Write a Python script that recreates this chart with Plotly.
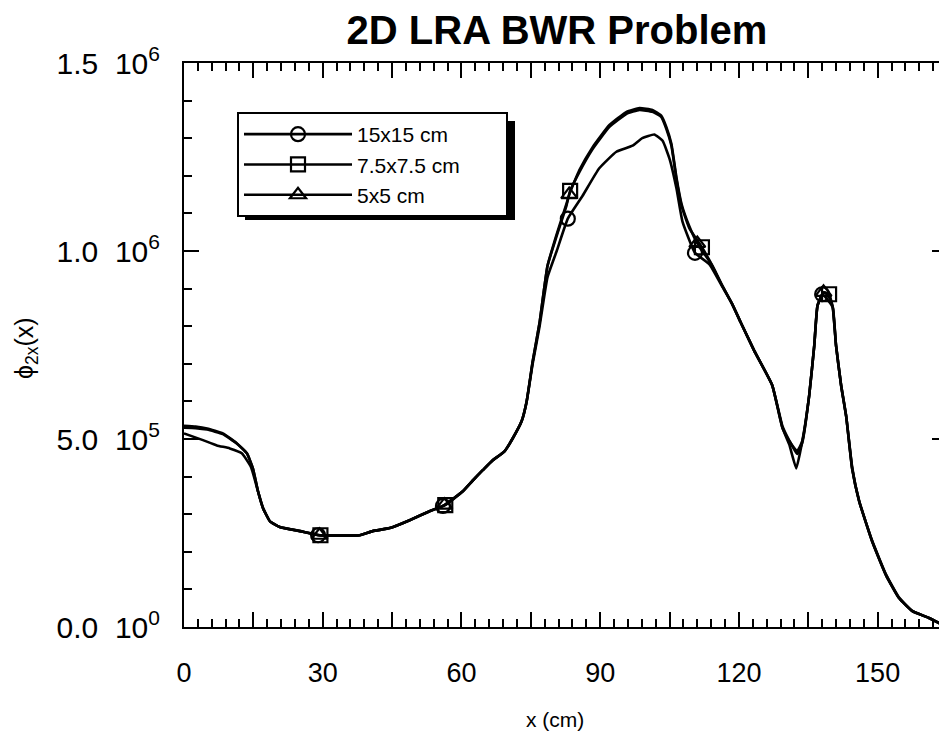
import plotly.graph_objects as go

# ---- data ----
x_15 = [0, 4.1, 7.1, 9.9, 12.5, 14.5, 16.0, 17.1, 18.6, 20.7, 25.1, 29.0, 33.0, 38.0, 40.8, 44.5,
        48.8, 53.1, 56.0, 60.3, 62.4, 64.6, 66.7, 69.3, 71.1, 73.0, 74.1, 75.4, 76.9, 78.6, 80.6,
        83.0, 86.2, 89.8, 93.5, 97.0, 99.1, 101.7, 103.5, 105.0, 106.5, 107.8, 110.5, 113.6,
        116.4, 118.5, 120.4, 123.3, 127.2, 129.4, 130.9, 132.4, 133.7, 135.2, 136.3, 137.0,
        138.0, 139.2, 140.3, 141.0, 142.1, 143.2, 144.5, 146.0, 148.8, 151.8, 154.6, 157.5,
        161.1, 165.0]
y_15 = [5.15e5, 4.97e5, 4.83e5, 4.75e5, 4.62e5, 4.25e5, 3.61e5, 3.16e5, 2.81e5, 2.66e5, 2.55e5,
        2.44e5, 2.43e5, 2.44e5, 2.55e5, 2.63e5, 2.84e5, 3.08e5, 3.22e5, 3.61e5, 3.89e5, 4.17e5,
        4.43e5, 4.67e5, 5.02e5, 5.47e5, 6.0e5, 7.0e5, 8.0e5, 9.3e5, 1.0e6, 1.086e6, 1.147e6,
        1.22e6, 1.264e6, 1.28e6, 1.30e6, 1.31e6, 1.293e6, 1.245e6, 1.166e6, 1.078e6, 0.995e6,
        9.65e5, 9.05e5, 8.6e5, 8.1e5, 7.35e5, 6.43e5, 5.3e5, 4.85e5, 4.22e5, 4.94e5, 6.16e5,
        7.49e5, 8.55e5, 8.85e5, 8.7e5, 8.5e5, 7.49e5, 6.43e5, 5.6e5, 4.2e5, 3.35e5, 2.28e5,
        1.38e5, 7.7e4, 4.2e4, 2.4e4, 0]
m_15 = [29.0, 56.0, 83.0, 110.5, 138.0]

x_75 = [0, 2.5, 5.0, 8.4, 11.4, 13.6, 14.9, 16.0, 17.1, 18.6, 20.7, 25.1, 29.5, 33.0, 38.0, 40.8,
        44.5, 48.8, 53.1, 56.5, 60.3, 62.4, 64.6, 66.7, 69.3, 71.1, 73.0, 74.1, 75.4, 76.9, 78.6,
        80.6, 82.7, 83.5, 85.5, 88.3, 92.0, 95.7, 98.5, 101.3, 103.2, 104.3, 105.4, 106.5, 107.6,
        109.3, 112.0, 114.3, 116.4, 118.5, 120.4, 123.3, 127.2, 129.4, 130.9, 132.6, 133.7, 135.2,
        136.3, 137.0, 138.5, 139.5, 140.3, 141.0, 142.1, 143.2, 144.5, 146.0, 148.8, 151.8, 154.6,
        157.5, 161.1, 165.0]
y_75 = [5.35e5, 5.33e5, 5.28e5, 5.15e5, 4.89e5, 4.62e5, 4.22e5, 3.61e5, 3.16e5, 2.81e5, 2.66e5,
        2.55e5, 2.44e5, 2.43e5, 2.44e5, 2.55e5, 2.63e5, 2.84e5, 3.08e5, 3.24e5, 3.61e5, 3.89e5,
        4.17e5, 4.43e5, 4.67e5, 5.02e5, 5.47e5, 6.0e5, 7.06e5, 8.1e5, 9.6e5, 1.04e6, 1.12e6,
        1.16e6, 1.21e6, 1.27e6, 1.33e6, 1.365e6, 1.375e6, 1.37e6, 1.357e6, 1.325e6, 1.28e6,
        1.19e6, 1.12e6, 1.06e6, 1.01e6, 9.6e5, 9.08e5, 8.6e5, 8.1e5, 7.35e5, 6.43e5, 5.3e5,
        4.94e5, 4.68e5, 4.94e5, 6.16e5, 7.49e5, 8.55e5, 8.9e5, 8.85e5, 8.5e5, 7.49e5, 6.43e5,
        5.6e5, 4.2e5, 3.35e5, 2.28e5, 1.38e5, 7.7e4, 4.2e4, 2.4e4, 0]
m_75 = [29.5, 56.5, 83.5, 112.0, 139.5]

x_5 = [0, 2.5, 5.0, 8.4, 11.4, 13.6, 14.9, 16.0, 17.1, 18.6, 20.7, 25.1, 29.3, 33.0, 38.0, 40.8,
       44.5, 48.8, 53.1, 56.3, 60.3, 62.4, 64.6, 66.7, 69.3, 71.1, 73.0, 74.1, 75.4, 76.9, 78.6,
       80.6, 82.7, 83.3, 85.5, 88.3, 92.0, 95.7, 98.5, 101.3, 103.2, 104.3, 105.4, 106.5, 107.6,
       109.3, 111.0, 114.3, 116.4, 118.5, 120.4, 123.3, 127.2, 129.4, 130.9, 132.6, 133.7, 135.2,
       136.3, 137.0, 138.3, 139.5, 140.3, 141.0, 142.1, 143.2, 144.5, 146.0, 148.8, 151.8, 154.6,
       157.5, 161.1, 165.0]
y_5 = [5.3e5, 5.29e5, 5.25e5, 5.13e5, 4.88e5, 4.62e5, 4.22e5, 3.61e5, 3.16e5, 2.81e5, 2.66e5,
       2.55e5, 2.44e5, 2.43e5, 2.44e5, 2.55e5, 2.63e5, 2.84e5, 3.08e5, 3.24e5, 3.61e5, 3.89e5,
       4.17e5, 4.43e5, 4.67e5, 5.02e5, 5.47e5, 6.0e5, 7.06e5, 8.1e5, 9.6e5, 1.045e6, 1.125e6,
       1.15e6, 1.215e6, 1.275e6, 1.335e6, 1.37e6, 1.38e6, 1.375e6, 1.36e6, 1.33e6, 1.285e6,
       1.195e6, 1.125e6, 1.065e6, 1.02e6, 9.6e5, 9.08e5, 8.6e5, 8.1e5, 7.35e5, 6.43e5, 5.35e5,
       4.96e5, 4.6e5, 4.9e5, 6.16e5, 7.49e5, 8.55e5, 8.9e5, 8.8e5, 8.5e5, 7.49e5, 6.43e5,
       5.6e5, 4.25e5, 3.35e5, 2.3e5, 1.4e5, 7.9e4, 4.3e4, 2.4e4, 0]
m_5 = [29.3, 56.3, 83.3, 111.0, 138.3]

names = ["15x15 cm", "7.5x7.5 cm", "5x5 cm"]
symbols = ["circle-open", "square-open", "triangle-up-open"]

x_ticks = list(range(0, 166, 15))
x_ticktext = [str(v) if v % 30 == 0 else "" for v in x_ticks]
y_ticks = [0, 5e5, 1e6, 1.5e6]
y_ticktext = ["0.0\u00a0 10<sup>0</sup>", "5.0\u00a0 10<sup>5</sup>",
              "1.0\u00a0 10<sup>6</sup>", "1.5\u00a0 10<sup>6</sup>"]

FONT = "Arial, Liberation Sans, Helvetica, sans-serif"

# page has an 8px body margin: figure coords = page coords - 8
OFF = 8
W, H = 947 - OFF, 743 - OFF
PL, PR, PT, PB = 184, 947, 63, 627      # plot area in page pixels
L, R, T, B = PL - OFF, W - (PR - OFF), PT - OFF, H - (PB - OFF)
pw, ph = W - L - R, H - T - B


def px_x(p):
    return (p - OFF - L) / pw


def px_y(p):
    return (H - B - (p - OFF)) / ph


fig = go.Figure()
for xs, ys, ms, name, sym in [(x_15, y_15, m_15, names[0], symbols[0]),
                               (x_75, y_75, m_75, names[1], symbols[1]),
                               (x_5, y_5, m_5, names[2], symbols[2])]:
    sel = [i for i, xv in enumerate(xs) if xv in ms]
    fig.add_trace(go.Scatter(
        x=xs, y=ys, name=name + "\u00a0" * 7, mode="lines+markers",
        line=dict(color="black", width=2.6, shape="spline", smoothing=0.4),
        marker=dict(symbol=sym, size=14, color="black", line=dict(color="black", width=2.2)),
        selectedpoints=sel,
        selected=dict(marker=dict(opacity=1)),
        unselected=dict(marker=dict(opacity=0)),
    ))

fig.update_layout(
    width=W, height=H,
    margin=dict(l=L, r=R, t=T, b=B, autoexpand=False),
    paper_bgcolor="white", plot_bgcolor="white",
    font=dict(family=FONT, color="black"),
    title=dict(text="<b>2D LRA BWR Problem</b>", x=(557 - OFF) / W, xanchor="center",
               y=1 - (30 - OFF) / H, yanchor="middle",
               font=dict(size=40, family=FONT, color="black")),
    showlegend=True,
    legend=dict(x=px_x(237), y=px_y(112), xanchor="left", yanchor="top",
                bgcolor="white", bordercolor="black", borderwidth=2,
                font=dict(size=21, family=FONT), itemwidth=108, itemsizing="trace",
                tracegroupgap=0),
    xaxis=dict(range=[0, 165], tickmode="array", tickvals=x_ticks, ticktext=x_ticktext,
               ticks="inside", ticklen=15, tickwidth=1.5, tickcolor="black",
               showline=True, linewidth=2, linecolor="black", mirror="ticks",
               showgrid=False, zeroline=False, automargin=False,
               tickfont=dict(size=27, family=FONT), ticklabelstandoff=21,
               minor=dict(dtick=3, tick0=0, ticks="inside", ticklen=8, tickwidth=1.5,
                          tickcolor="black", showgrid=False)),
    yaxis=dict(range=[0, 1.5e6], tickmode="array", tickvals=y_ticks, ticktext=y_ticktext,
               ticks="inside", ticklen=15, tickwidth=1.5, tickcolor="black",
               showline=True, linewidth=2, linecolor="black", mirror="ticks",
               showgrid=False, zeroline=False, automargin=False,
               tickfont=dict(size=30, family=FONT), ticklabelstandoff=16,
               minor=dict(dtick=1e5, tick0=0, ticks="inside", ticklen=8, tickwidth=1.5,
                          tickcolor="black", showgrid=False)),
    shapes=[dict(type="rect", xref="paper", yref="paper",
                 x0=px_x(245), x1=px_x(515), y0=px_y(220), y1=px_y(121),
                 fillcolor="black", line=dict(width=0), layer="above")],
    annotations=[
        dict(text="ϕ<sub>2x</sub>(x)", xref="paper", yref="paper",
             x=px_x(26), y=px_y(348), textangle=-90, showarrow=False,
             font=dict(size=25, family=FONT), xanchor="center", yanchor="middle"),
        dict(text="x (cm)", xref="paper", yref="paper",
             x=px_x(555), y=px_y(720), showarrow=False,
             font=dict(size=21, family=FONT), xanchor="center", yanchor="middle"),
    ],
)

fig.write_html("out.html")
